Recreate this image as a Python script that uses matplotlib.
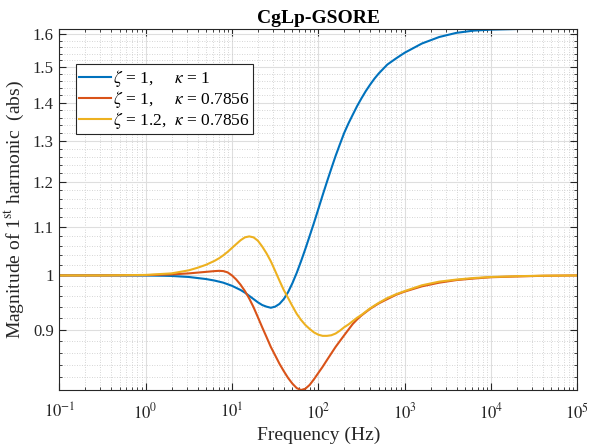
import numpy as np
import matplotlib
matplotlib.use("Agg")
import matplotlib.pyplot as plt
from matplotlib.ticker import FixedLocator, FixedFormatter, LogLocator, NullFormatter

plt.rcParams['font.family'] = ['Liberation Serif', 'DejaVu Serif']
plt.rcParams['mathtext.fontset'] = 'stix'

# ---- data ----
freq = [0.1, 0.316, 1, 1.585, 1.995, 2.512, 3.162, 3.981, 5.012, 6.310, 7.079, 7.943, 8.913,
        10, 11.22, 12.59, 14.13, 15.85, 17.78, 19.95, 22.39, 25.12, 28.18, 31.62, 35.48,
        39.81, 44.67, 50.12, 56.23, 63.10, 70.79, 79.43, 89.13, 100, 112.2, 125.9,
        141.3, 158.5, 177.8, 199.5, 223.9, 251.2, 281.8, 316.2, 354.8, 398.1, 446.7, 501.2,
        631.0, 794.3, 1000, 1585, 2512, 3981, 6310, 10000, 19950, 39810, 100000]

mag_zeta1_kappa1 = [1.0, 1.0, 0.9998, 0.9994, 0.999, 0.998, 0.997, 0.995, 0.993, 0.990, 0.988,
                    0.986, 0.983,
                    0.980, 0.976, 0.972, 0.967, 0.961, 0.955, 0.949, 0.944, 0.941, 0.939, 0.941,
                    0.946, 0.955, 0.968, 0.985, 1.005, 1.028, 1.053, 1.080, 1.108, 1.138, 1.169,
                    1.200,
                    1.231, 1.262, 1.291, 1.320, 1.345, 1.368, 1.391, 1.412, 1.432, 1.450, 1.467,
                    1.482,
                    1.508, 1.526, 1.543, 1.571, 1.591, 1.604, 1.611, 1.614, 1.616, 1.6168, 1.617]

mag_zeta1_kappa07856 = [1.0, 1.0, 1.0005, 1.0015, 1.002, 1.003, 1.004, 1.0055, 1.007, 1.0085,
                        1.009, 1.0085, 1.006,
                        1.000, 0.992, 0.982, 0.970, 0.956, 0.940, 0.922, 0.904, 0.887, 0.870,
                        0.856, 0.842, 0.830, 0.819, 0.810, 0.803, 0.800, 0.802, 0.808, 0.817,
                        0.827, 0.837, 0.848,
                        0.859, 0.870, 0.880, 0.890, 0.900, 0.910, 0.918, 0.925, 0.931, 0.937,
                        0.942, 0.947,
                        0.955, 0.963, 0.969, 0.979, 0.986, 0.991, 0.994, 0.9965, 0.998, 0.9993,
                        1.0]

mag_zeta12_kappa07856 = [1.0, 1.0, 1.001, 1.003, 1.004, 1.007, 1.010, 1.015, 1.021, 1.029,
                         1.034, 1.040, 1.047,
                         1.055, 1.063, 1.071, 1.077, 1.079, 1.077, 1.070, 1.058, 1.044, 1.028,
                         1.009, 0.990, 0.972, 0.957, 0.942, 0.928, 0.917, 0.908, 0.901, 0.895,
                         0.891, 0.889, 0.889,
                         0.890, 0.893, 0.898, 0.904, 0.909, 0.915, 0.921, 0.926, 0.932, 0.938,
                         0.943, 0.948,
                         0.957, 0.964, 0.970, 0.981, 0.988, 0.992, 0.995, 0.997, 0.9985,
                         0.9995, 1.0]

series = [mag_zeta1_kappa1, mag_zeta1_kappa07856, mag_zeta12_kappa07856]
labels = [r'$\zeta$ = 1,     $\kappa$ = 1',
          r'$\zeta$ = 1,     $\kappa$ = 0.7856',
          r'$\zeta$ = 1.2,  $\kappa$ = 0.7856']
colors = ['#0072BD', '#D95319', '#EDB120']

xticks = [1e-1, 1e0, 1e1, 1e2, 1e3, 1e4, 1e5]
xticklabels = [r'$10^{-1}$', r'$10^{0}$', r'$10^{1}$', r'$10^{2}$', r'$10^{3}$', r'$10^{4}$', r'$10^{5}$']
yticks = [0.9, 1.0, 1.1, 1.2, 1.3, 1.4, 1.5, 1.6]
yticklabels = ['0.9', '1', '1.1', '1.2', '1.3', '1.4', '1.5', '1.6']
yminor = [0.82, 0.84, 0.86, 0.88, 0.92, 0.94, 0.96, 0.98, 1.02, 1.04, 1.06, 1.08,
          1.12, 1.14, 1.16, 1.18, 1.22, 1.24, 1.26, 1.28, 1.32, 1.34, 1.36, 1.38,
          1.42, 1.44, 1.46, 1.48, 1.52, 1.54, 1.56, 1.58]

# ---- figure ----
fig = plt.figure(figsize=(5.9, 4.47), dpi=100)
ax = fig.add_axes([0.1005, 0.1275, 0.878, 0.8083])

for ys, lab, c in zip(series, labels, colors):
    ax.plot(freq, ys, color=c, lw=1.5, label=lab, solid_joinstyle='round')

ax.set_xscale('log')
ax.set_yscale('log')
ax.set_xlim(0.1, 1e5)
ymin = min(min(s) for s in series)
ymax = max(max(s) for s in series)
ax.set_ylim(ymin, ymax)

ax.xaxis.set_major_locator(FixedLocator(xticks))
ax.xaxis.set_major_formatter(FixedFormatter(xticklabels))
ax.xaxis.set_minor_locator(LogLocator(base=10, subs=np.arange(2, 10), numticks=100))
ax.xaxis.set_minor_formatter(NullFormatter())
ax.yaxis.set_major_locator(FixedLocator(yticks))
ax.yaxis.set_major_formatter(FixedFormatter(yticklabels))
ax.yaxis.set_minor_locator(FixedLocator(yminor))
ax.yaxis.set_minor_formatter(NullFormatter())

axcol = '#262626'
ax.grid(True, which='major', color='#dedede', lw=0.8, ls='-')
ax.grid(True, which='minor', color='#c8c8c8', lw=0.6, ls=(0, (1, 2)))
ax.set_axisbelow(True)
for s in ax.spines.values():
    s.set_color(axcol)
    s.set_linewidth(0.8)
ax.tick_params(which='both', direction='in', top=True, right=True, colors=axcol, labelsize=12)
ax.tick_params(which='major', length=5, width=0.8)
ax.tick_params(which='minor', length=2.5, width=0.6)
ax.tick_params(axis='x', pad=9)
ax.tick_params(axis='y', pad=4)

ax.set_title('CgLp-GSORE', fontsize=14, fontweight='bold', color='black', pad=4)
ax.set_xlabel('Frequency (Hz)', fontsize=14, color=axcol, labelpad=3)
ax.set_ylabel(r'Magnitude of 1$^{\mathrm{st}}$ harmonic  (abs)', fontsize=14, color=axcol, labelpad=5)

leg = ax.legend(loc='upper left', bbox_to_anchor=(0.032, 0.902), borderaxespad=0,
                fontsize=12.5, frameon=True, fancybox=False, framealpha=1,
                handlelength=1.8, handletextpad=0.15, borderpad=0.2, labelspacing=0.0)
leg.get_frame().set_edgecolor(axcol)
leg.get_frame().set_linewidth(0.8)

fig.savefig('out.png', dpi=100)
